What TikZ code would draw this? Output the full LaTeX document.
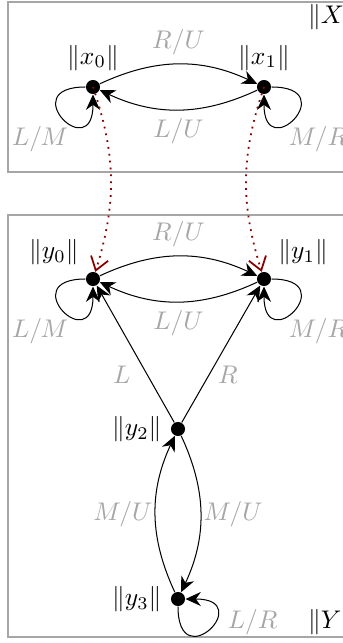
\documentclass[tikz,border=0pt]{standalone}
\usetikzlibrary{arrows.meta}
\tikzset{
  state/.style={circle, fill=black, inner sep=0pt, minimum size=5.5pt},
  box/.style={draw=black!35, line width=0.8pt},
  lab/.style={text=black!35},
  corr/.style={dotted, line width=0.7pt, draw=red!55!black, -{Straight Barb[length=5pt,width=7pt]}}
}
\begin{document}
\begin{tikzpicture}[x=0.01378cm, y=-0.01378cm, >={Stealth[length=6pt,width=5.5pt]}]
    \useasboundingbox (0,0) rectangle (343,643);
    \clip (0,0) rectangle (343,643);

    % Boxes
    \draw[box] (8,2) rectangle (380,172);
    \draw[box] (8,215) rectangle (380,637);
    \node[anchor=west] (X) at (299,17) {$\|X\|$};
    \node[anchor=west] (Y) at (299,622) {$\|Y\|$};

    % States of X
    \node[state, label=above:{$\|x_0\|$}] (x0) at (93,87) {};
    \node[state, label=above:{$\|x_1\|$}] (x1) at (264,87) {};

    % States of Y
    \node[state, label=above left:{$\|y_0\|$}] (y0) at (93,279) {};
    \node[state, label=above right:{$\|y_1\|$}] (y1) at (264,279) {};
    \node[state, label=left:{$\|y_2\|$}] (y2) at (178,429) {};
    \node[state, label=left:{$\|y_3\|$}] (y3) at (178,599) {};

    % Transitions of X
    \draw[->] (x0) to[bend left=25] node[lab, above] {$R/U$} (x1);
    \draw[->] (x1) to[bend left=25] node[lab, below] {$L/U$} (x0);
    \draw[->] (x0) to[out=180, in=270, distance=28pt] node[lab, pos=.5, anchor=north east, xshift=5.8pt] {$L/M$} (x0);
    \draw[->] (x1) to[out=0, in=270, distance=28pt] node[lab, pos=.5, anchor=north west, xshift=-5.8pt] {$M/R$} (x1);

    % Transitions of Y
    \draw[->] (y0) to[bend left=25] node[lab, above] {$R/U$} (y1);
    \draw[->] (y1) to[bend left=25] node[lab, below] {$L/U$} (y0);
    \draw[->] (y0) to[out=180, in=270, distance=28pt] node[lab, pos=.5, anchor=north east, xshift=5.8pt] {$L/M$} (y0);
    \draw[->] (y1) to[out=0, in=270, distance=28pt] node[lab, pos=.5, anchor=north west, xshift=-5.8pt] {$M/R$} (y1);
    \draw[->] (y2) -- node[lab, pos=.35, left=3pt] {$L$} (y0);
    \draw[->] (y2) -- node[lab, pos=.35, right] {$R$} (y1);
    \draw[->] (y3) to[bend left=25] node[lab, left, inner sep=1pt] {$M/U$} (y2);
    \draw[->] (y2) to[bend left=25] node[lab, right, inner sep=1pt] {$M/U$} (y3);
    \draw[->] (y3) to[out=270, in=0, distance=28pt] node[lab, pos=.6, right=2pt] {$L/R$} (y3);

    % Correspondence
    \draw[corr] (x0.center) to[bend left=18] (y0);
    \draw[corr] (x1.center) to[bend right=18] (y1);
\end{tikzpicture}
\end{document}
